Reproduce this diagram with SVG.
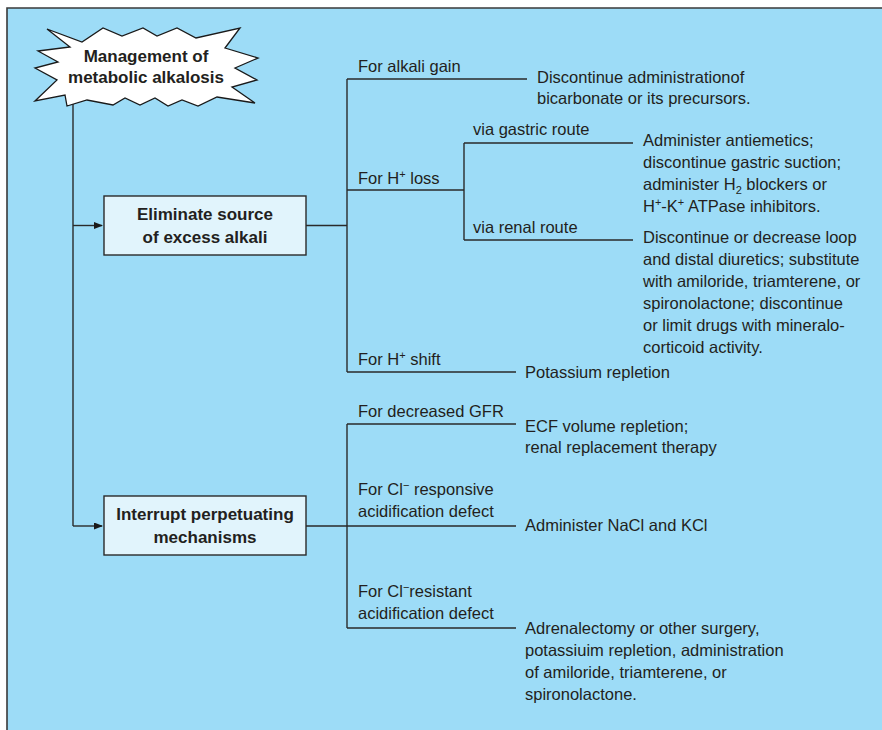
<svg xmlns="http://www.w3.org/2000/svg" width="882" height="730" viewBox="0 0 882 730">
  <style>
    .t { font-family: "Liberation Sans", Arial, sans-serif; font-size: 16.5px; fill: #231f20; }
    .b { font-family: "Liberation Sans", Arial, sans-serif; font-size: 17px; font-weight: bold; fill: #231f20; text-anchor: middle; }
    .ln { stroke: #2a2a2a; stroke-width: 1.4; fill: none; }
    .box { fill: #e1f4fc; stroke: #2a2a2a; stroke-width: 1.4; }
    .sup { font-size: 11px; }
  </style>
  <defs>
    <marker id="arrow" markerWidth="9" markerHeight="7" refX="8" refY="3.5" orient="auto" markerUnits="userSpaceOnUse">
      <path d="M0,0 L9,3.5 L0,7 Z" fill="#1a1a1a"/>
    </marker>
  </defs>

  <!-- panel -->
  <rect x="7" y="8" width="875" height="722" fill="#9ddcf7"/>
  <path d="M7,730 L7,8 L882,8" stroke="#3a3a3a" stroke-width="1.6" fill="none"/>

  <!-- connectors -->
  <g id="connectors">
    <!-- trunk from title -->
    <path class="ln" d="M73,103 L73,526"/>
    <path class="ln" d="M73,225.5 L102,225.5" marker-end="url(#arrow)"/>
    <path class="ln" d="M73,526 L102,526" marker-end="url(#arrow)"/>

    <!-- eliminate source branches -->
    <path class="ln" d="M306,225.5 L347,225.5"/>
    <path class="ln" d="M347,79 L347,372"/>
    <path class="ln" d="M347,79 L527,79"/>
    <path class="ln" d="M347,190 L464,190"/>
    <path class="ln" d="M464,143 L464,240"/>
    <path class="ln" d="M464,143 L633,143"/>
    <path class="ln" d="M464,240 L633,240"/>
    <path class="ln" d="M347,372 L516,372"/>

    <!-- perpetuating mechanisms branches -->
    <path class="ln" d="M306,526 L516,526"/>
    <path class="ln" d="M347,424 L347,628"/>
    <path class="ln" d="M347,424 L516,424"/>
    <path class="ln" d="M347,628 L516,628"/>
  </g>

  <!-- title starburst -->
  <g id="title">
    <polygon fill="#ffffff" stroke="#1a1a1a" stroke-width="1.3" stroke-linejoin="miter"
      points="47,29 82,42 103,28 122,36 143,28 157,36 177,28 196,38 240,28 225,48 258,58 235,68 257,80 232,87 255,103 217,97 198,106 182,100 168,106 155,98 140,105 125,98 113,105 87,100 67,106 65,95 35,101 57,80 35,68 58,62 38,51 70,47"/>
    <text class="b" x="146" y="62">Management of</text>
    <text class="b" x="146" y="83">metabolic alkalosis</text>
  </g>

  <g id="eliminate-source">
    <rect class="box" x="104" y="196" width="202" height="59"/>
    <text class="b" x="205" y="220">Eliminate source</text>
    <text class="b" x="205" y="243">of excess alkali</text>
  </g>

  <g id="interrupt-mechanisms">
    <rect class="box" x="104" y="496" width="202" height="59"/>
    <text class="b" x="205" y="520">Interrupt perpetuating</text>
    <text class="b" x="205" y="543">mechanisms</text>
  </g>

  <!-- branch labels -->
  <g id="labels">
    <text class="t" x="358" y="72">For alkali gain</text>
    <text class="t" x="358" y="184">For H<tspan class="sup" dy="-6">+</tspan><tspan dy="6"> loss</tspan></text>
    <text class="t" x="473" y="135">via gastric route</text>
    <text class="t" x="473" y="233">via renal route</text>
    <text class="t" x="358" y="365">For H<tspan class="sup" dy="-6">+</tspan><tspan dy="6"> shift</tspan></text>
    <text class="t" x="358" y="417">For decreased GFR</text>
    <text class="t" x="358" y="495">For Cl<tspan class="sup" dy="-6">−</tspan><tspan dy="6"> responsive</tspan></text>
    <text class="t" x="358" y="517">acidification defect</text>
    <text class="t" x="358" y="597">For Cl<tspan class="sup" dy="-6">−</tspan><tspan dy="6">resistant</tspan></text>
    <text class="t" x="358" y="619">acidification defect</text>
  </g>

  <!-- treatments -->
  <g id="alkali-gain-tx">
    <text class="t" x="537" y="83">Discontinue administrationof</text>
    <text class="t" x="537" y="104">bicarbonate or its precursors.</text>
  </g>
  <g id="gastric-tx">
    <text class="t" x="643" y="146">Administer antiemetics;</text>
    <text class="t" x="643" y="168">discontinue gastric suction;</text>
    <text class="t" x="643" y="190">administer H<tspan class="sup" dy="4">2</tspan><tspan dy="-4"> blockers or</tspan></text>
    <text class="t" x="643" y="212">H<tspan class="sup" dy="-6">+</tspan><tspan dy="6">-K</tspan><tspan class="sup" dy="-6">+</tspan><tspan dy="6"> ATPase inhibitors.</tspan></text>
  </g>
  <g id="renal-tx">
    <text class="t" x="643" y="243">Discontinue or decrease loop</text>
    <text class="t" x="643" y="265">and distal diuretics; substitute</text>
    <text class="t" x="643" y="287">with amiloride, triamterene, or</text>
    <text class="t" x="643" y="309">spironolactone; discontinue</text>
    <text class="t" x="643" y="331">or limit drugs with mineralo-</text>
    <text class="t" x="643" y="353">corticoid activity.</text>
  </g>
  <g id="shift-tx">
    <text class="t" x="525" y="378">Potassium repletion</text>
  </g>
  <g id="gfr-tx">
    <text class="t" x="525" y="432">ECF volume repletion;</text>
    <text class="t" x="525" y="453">renal replacement therapy</text>
  </g>
  <g id="cl-responsive-tx">
    <text class="t" x="525" y="531">Administer NaCl and KCl</text>
  </g>
  <g id="cl-resistant-tx">
    <text class="t" x="525" y="634">Adrenalectomy or other surgery,</text>
    <text class="t" x="525" y="656">potassiuim repletion, administration</text>
    <text class="t" x="525" y="678">of amiloride, triamterene, or</text>
    <text class="t" x="525" y="700">spironolactone.</text>
  </g>
</svg>
